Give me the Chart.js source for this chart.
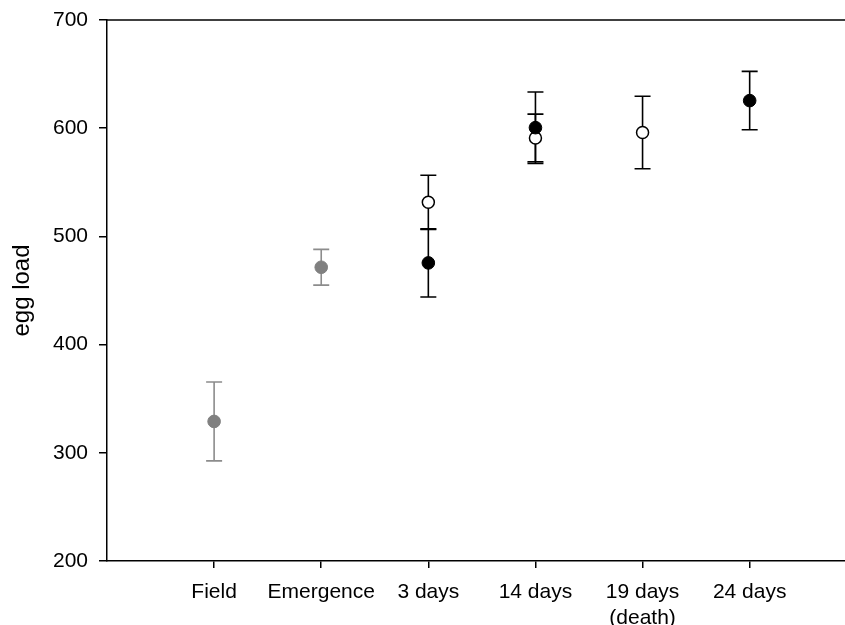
<!DOCTYPE html>
<html>
<head>
<meta charset="utf-8">
<script src="https://cdn.jsdelivr.net/npm/chart.js@4/dist/chart.umd.min.js"></script>
<style>
    html, body { margin: 0; padding: 0; background: #fff; overflow: hidden; }
</style>
</head>
<body>
<canvas id="eggChart" width="845" height="625"></canvas>
<script>
// Categories along the x axis
const categories = ['Field', 'Emergence', '3 days', '14 days', ['19 days', '(death)'], '24 days'];
const yTicks = [200, 300, 400, 500, 600, 700];

// Grey points (field / emergence)
const greyX = [0, 1];
const greyMean = [329, 471.5];
const greyErr = [36.5, 16.5];

// Filled points
const filledX = [2, 3, 5];
const filledMean = [475.5, 600.5, 625.5];
const filledErr = [31.5, 33, 27];

// Open points
const openX = [2, 3, 4];
const openMean = [531.5, 591, 596];
const openErr = [25, 22, 33.5];

function toPoints(xs, ys) {
    return xs.map(function(x, i) { return { x: x, y: ys[i] }; });
}

// Error bars drawn under the points
const errorBarPlugin = {
    id: 'errorBars',
    beforeDatasetsDraw: function(chart) {
        const ctx = chart.ctx;
        const xScale = chart.scales.x;
        const yScale = chart.scales.y;
        const capHalf = 8;
        chart.data.datasets.forEach(function(ds) {
            ctx.save();
            ctx.strokeStyle = ds.errorColor;
            ctx.lineWidth = 1.6;
            ds.data.forEach(function(pt, i) {
                const px = xScale.getPixelForValue(pt.x);
                const top = yScale.getPixelForValue(pt.y + ds.errors[i]);
                const bottom = yScale.getPixelForValue(pt.y - ds.errors[i]);
                ctx.beginPath();
                ctx.moveTo(px, top);
                ctx.lineTo(px, bottom);
                ctx.moveTo(px - capHalf, top);
                ctx.lineTo(px + capHalf, top);
                ctx.moveTo(px - capHalf, bottom);
                ctx.lineTo(px + capHalf, bottom);
                ctx.stroke();
            });
            ctx.restore();
        });
    }
};

// Top frame line
const topFramePlugin = {
    id: 'topFrame',
    afterDraw: function(chart) {
        const a = chart.chartArea;
        const ctx = chart.ctx;
        ctx.save();
        ctx.strokeStyle = '#000';
        ctx.lineWidth = 1.5;
        ctx.beginPath();
        ctx.moveTo(a.left, a.top);
        ctx.lineTo(a.right, a.top);
        ctx.stroke();
        ctx.restore();
    }
};

Chart.defaults.font.family = "'Liberation Sans', Arial, Helvetica, sans-serif";
Chart.defaults.color = '#000';

new Chart(document.getElementById('eggChart'), {
    type: 'scatter',
    data: {
        datasets: [
            {
                data: toPoints(greyX, greyMean),
                errors: greyErr,
                errorColor: '#8c8c8c',
                pointRadius: 6.3,
                backgroundColor: '#808080',
                borderColor: '#808080',
                borderWidth: 1
            },
            {
                data: toPoints(filledX, filledMean),
                errors: filledErr,
                errorColor: '#000',
                pointRadius: 6.3,
                backgroundColor: '#000',
                borderColor: '#000',
                borderWidth: 1
            },
            {
                data: toPoints(openX, openMean),
                errors: openErr,
                errorColor: '#000',
                pointRadius: 6,
                backgroundColor: '#fff',
                borderColor: '#000',
                borderWidth: 1.5
            }
        ]
    },
    options: {
        responsive: false,
        animation: false,
        layout: { autoPadding: false, padding: { top: 20, left: 0, right: 0, bottom: 0 } },
        plugins: {
            legend: { display: false },
            tooltip: { enabled: false }
        },
        scales: {
            x: {
                type: 'linear',
                min: -1,
                max: 5.89,
                afterBuildTicks: function(scale) {
                    scale.ticks = categories.map(function(c, i) { return { value: i }; });
                },
                afterFit: function(scale) {
                    scale.height = 64;
                    scale.paddingLeft = 0;
                    scale.paddingRight = 0;
                },
                grid: { drawOnChartArea: false, drawTicks: true, tickLength: 7, color: '#000', lineWidth: 1.5 },
                border: { display: true, color: '#000', width: 1.5 },
                ticks: {
                    autoSkip: false,
                    maxRotation: 0,
                    padding: 12,
                    font: { size: 21 },
                    callback: function(value) { return categories[value]; }
                }
            },
            y: {
                min: 200,
                max: 700,
                afterBuildTicks: function(scale) {
                    scale.ticks = yTicks.map(function(v) { return { value: v }; });
                },
                afterFit: function(scale) {
                    scale.width = 107;
                    scale.paddingTop = 0;
                    scale.paddingBottom = 0;
                },
                grid: { drawOnChartArea: false, drawTicks: true, tickLength: 8, color: '#000', lineWidth: 1.5 },
                border: { display: true, color: '#000', width: 1.5 },
                ticks: { padding: 11, font: { size: 21 } },
                title: {
                    display: true,
                    text: 'egg load',
                    font: { size: 24 },
                    padding: { top: 8, bottom: 0 }
                }
            }
        }
    },
    plugins: [errorBarPlugin, topFramePlugin]
});
</script>
</body>
</html>
